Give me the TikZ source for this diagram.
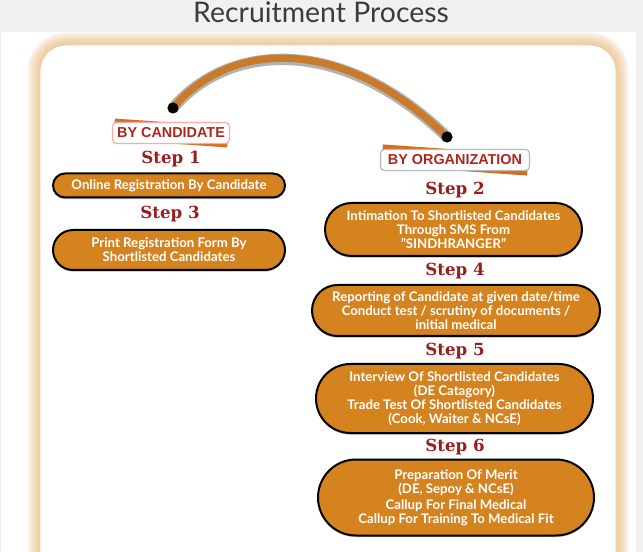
\documentclass[tikz,border=0pt]{standalone}
\usepackage{fontspec}
\setmainfont{Lato}
\newfontfamily\labelfont{Liberation Sans}
\newfontfamily\stepfont{DejaVu Serif}
\usetikzlibrary{shapes.misc, shadows}
\definecolor{pagegray}{HTML}{F1F1F1}
\definecolor{titlegray}{HTML}{3C3C3C}
\definecolor{glowc}{HTML}{EDB877}
\definecolor{bridgec}{HTML}{C97B2B}
\definecolor{boxorange}{HTML}{D5831F}
\definecolor{stepred}{HTML}{9B1D1D}
\definecolor{lblred}{HTML}{A8281E}
\definecolor{ribbonc}{HTML}{D2701C}

\tikzset{
  pill/.style 2 args={rounded rectangle, draw=black, line width=1.5pt, fill=boxorange,
    minimum width=#1*0.75pt, minimum height=#2*0.75pt, inner sep=0pt,
    text=white, align=center, font=\bfseries\fontsize{9.9}{10.6}\selectfont,
    drop shadow={shadow xshift=0pt, shadow yshift=-1.2pt, opacity=0.55}},
  steplbl/.style={text=stepred, font=\stepfont\bfseries\fontsize{12.5}{12.5}\selectfont},
  bylbl/.style 2 args={draw=#2, fill=white, rounded corners=3pt, line width=0.9pt,
    minimum width=#1*0.75pt, minimum height=21*0.75pt, inner sep=0pt,
    text=lblred, font=\labelfont\bfseries\fontsize{10.8}{12}\selectfont},
  ribbon/.style={fill=ribbonc, rotate=-4, minimum width=#1*0.75pt,
    minimum height=21*0.75pt, inner sep=0pt},
}

\begin{document}
\begin{tikzpicture}[x=0.75pt, y=-0.75pt]
\clip (0,0) rectangle (643,552);
% page
\fill[pagegray] (0,0) rectangle (643,552);
\fill[white] (1,32) rectangle (636,552);
\node[text=titlegray, font=\fontsize{21.3}{21.3}\selectfont] (title) at (321,12) {Recruitment Process};

% panel with soft glow
\foreach \i in {13,...,1}
  \fill[glowc, opacity=0.075, rounded corners=(26+\i)*0.75pt] (40-\i,45-\i) rectangle (616+\i,620);
\fill[white, rounded corners=19.5pt] (40,45) rectangle (616,620);
\draw[glowc!70, line width=0.6pt, rounded corners=19.5pt] (40,45) rectangle (616,620);

% bridge
\coordinate (canddot) at (173,108);
\coordinate (orgdot) at (447,137);
\draw[black, opacity=0.3, line width=8.5pt, yshift=-1.2pt] (canddot) .. controls (228,42) and (340,32) .. (orgdot);
\draw[bridgec, line width=5.5pt] (canddot) .. controls (228,42) and (340,32) .. (orgdot);
\fill[black] (canddot) circle (4.2pt);
\fill[black] (orgdot) circle (4.2pt);

% labels
\node[ribbon=114] (candrib) at (171,133) {};
\node[bylbl={117}{red!35}] (cand) at (171,133) {BY CANDIDATE};
\node[ribbon=146] (orgrib) at (455,160) {};
\node[bylbl={149}{gray!55}] (org) at (455,160) {BY ORGANIZATION};

% left column
\node[steplbl] (s1) at (171,159) {Step 1};
\node[pill={232}{24}] (b1) at (169,185.5) {Online Registration By Candidate};
\node[steplbl] (s3) at (170,214) {Step 3};
\node[pill={232}{40}] (b3) at (169,250) {Print Registration Form By\\Shortlisted Candidates};

% right column
\node[steplbl] (s2) at (455,190) {Step 2};
\node[pill={257}{53}] (b2) at (453.5,229.5) {Intimation To Shortlisted Candidates\\Through SMS From\\"SINDHRANGER"};
\node[steplbl] (s4) at (455,271) {Step 4};
\node[pill={288}{51}] (b4) at (456,310.5) {Reporting of Candidate at given date/time\\Conduct test / scrutiny of documents /\\initial medical};
\node[steplbl] (s5) at (455,351) {Step 5};
\node[pill={277}{69}] (b5) at (454.5,398.5) {Interview Of Shortlisted Candidates\\(DE Catagory)\\Trade Test Of Shortlisted Candidates\\(Cook, Waiter \& NCsE)};
\node[steplbl] (s6) at (455,447) {Step 6};
\node[pill={276}{76}] (b6) at (456,497.5) {Preparation Of Merit\\(DE, Sepoy \& NCsE)\\[1.5pt]Callup For Final Medical\\Callup For Training To Medical Fit};
\end{tikzpicture}
\end{document}
